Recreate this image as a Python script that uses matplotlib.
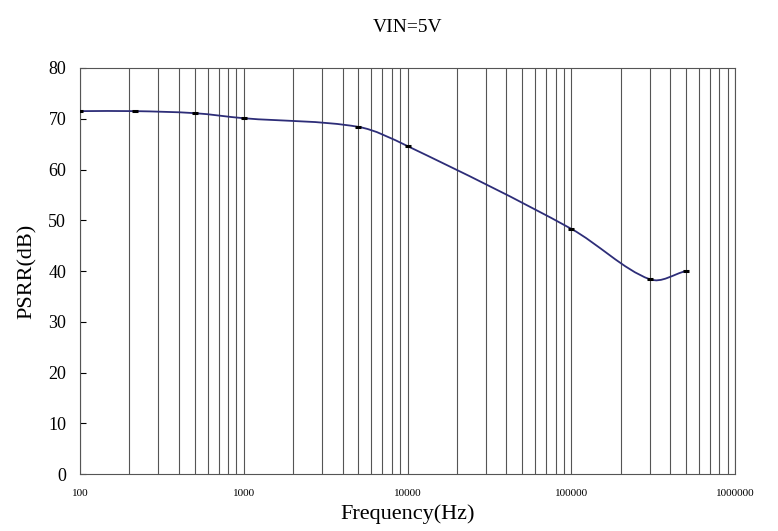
import numpy as np
import matplotlib.pyplot as plt
from matplotlib.path import Path
from matplotlib.patches import PathPatch
from matplotlib.ticker import LogLocator, FixedLocator

freq = [100, 215, 500, 1000, 5000, 10000, 100000, 300000, 500000]
psrr = [71.5, 71.5, 71.1, 70.1, 68.4, 64.6, 48.3, 38.4, 40.0]

x_ticks = [100, 1000, 10000, 100000, 1000000]
x_labels = ['100', '1000', '10000', '100000', '1000000']
y_ticks = [0, 10, 20, 30, 40, 50, 60, 70, 80]

plt.rcParams['font.family'] = ['Liberation Serif', 'DejaVu Serif']

fig = plt.figure(figsize=(7.78, 5.31), dpi=100)
ax = fig.add_axes([0.103, 0.107, 0.842, 0.765])

ax.set_xscale('log')
ax.set_xlim(100, 1000000)
ax.set_ylim(0, 80)

# smoothed line: Bezier segments through the points (in log-x space)
lx = np.log10(freq)
py = np.array(psrr)
n = len(freq)
slope = np.empty(n)
for i in range(n):
    a, b = max(i - 1, 0), min(i + 1, n - 1)
    slope[i] = (py[b] - py[a]) / (lx[b] - lx[a])
verts = [(freq[0], psrr[0])]
codes = [Path.MOVETO]
for i in range(n - 1):
    h = (lx[i + 1] - lx[i]) / 3
    c1 = (lx[i] + h, py[i] + slope[i] * h)
    c2 = (lx[i + 1] - h, py[i + 1] - slope[i + 1] * h)
    verts += [(10 ** c1[0], c1[1]), (10 ** c2[0], c2[1]), (freq[i + 1], psrr[i + 1])]
    codes += [Path.CURVE4] * 3
ax.add_patch(PathPatch(Path(verts, codes), fill=False, edgecolor='#2d2d78',
                       linewidth=1.3, zorder=3))

ax.plot(freq, psrr, linestyle='none', marker='_', markersize=5,
        markeredgewidth=2.2, color='black', zorder=4)

ax.xaxis.set_major_locator(FixedLocator(x_ticks))
ax.set_xticklabels(x_labels, fontsize=8)
ax.xaxis.set_minor_locator(LogLocator(base=10, subs=range(2, 10)))
ax.tick_params(axis='x', which='both', length=0, pad=11)
ax.grid(True, axis='x', which='both', color='#555555', linewidth=0.8)

ax.set_yticks(y_ticks)
ax.tick_params(axis='y', direction='in', length=4, labelsize=13, pad=10)

for s in ax.spines.values():
    s.set_color('#555555')
    s.set_linewidth(0.8)

ax.set_title('VIN=5V', fontsize=14, pad=26)
ax.set_xlabel('Frequency(Hz)', fontsize=16, labelpad=4)
ax.set_ylabel('PSRR(dB)', fontsize=16, labelpad=8)

fig.savefig('out.png', dpi=100)
